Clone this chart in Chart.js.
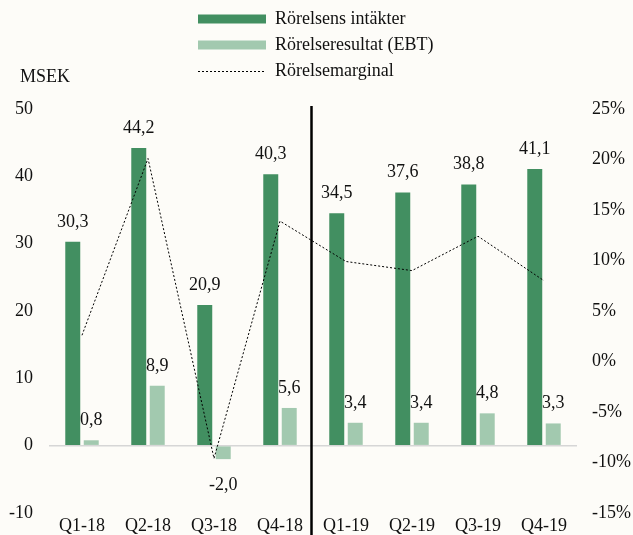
<!DOCTYPE html>
<html>
<head>
<meta charset="utf-8">
<script src="https://cdn.jsdelivr.net/npm/chart.js@4/dist/chart.umd.min.js"></script>
<style>
html,body{margin:0;padding:0;background:#fdfcf8;}
#wrap{position:relative;width:633px;height:535px;}
</style>
</head>
<body>
<div id="wrap"><canvas id="c" width="633" height="535"></canvas></div>
<script>
const categories = ['Q1-18','Q2-18','Q3-18','Q4-18','Q1-19','Q2-19','Q3-19','Q4-19'];
const revenue = [30.3, 44.2, 20.9, 40.3, 34.5, 37.6, 38.8, 41.1];
const ebt = [0.8, 8.9, -2.0, 5.6, 3.4, 3.4, 4.8, 3.3];
const margin = [2.6, 20.1, -9.6, 13.9, 9.9, 9.0, 12.4, 8.0];
const seriesNames = ['Rörelsens intäkter', 'Rörelseresultat (EBT)', 'Rörelsemarginal'];
const unitLabel = 'MSEK';

const DARK = '#428f61';
const LIGHT = '#a2c9af';
const FONT = '"Liberation Serif", "Times New Roman", serif';

const fmt = v => v.toFixed(1).replace('.', ',');

const bgPlugin = {
  id: 'bg',
  beforeDraw(chart) {
    const ctx = chart.ctx;
    ctx.save();
    ctx.fillStyle = '#fdfcf8';
    ctx.fillRect(0, 0, chart.width, chart.height);
    ctx.restore();
  }
};

const labelsPlugin = {
  id: 'barLabels',
  afterDatasetsDraw(chart) {
    const ctx = chart.ctx;
    ctx.save();
    ctx.font = '18px ' + FONT;
    ctx.fillStyle = '#111';
    ctx.textAlign = 'center';
    ctx.textBaseline = 'alphabetic';
    [0, 1].forEach(di => {
      const meta = chart.getDatasetMeta(di);
      const data = chart.data.datasets[di].data;
      meta.data.forEach((el, i) => {
        const v = data[i];
        const y = v >= 0 ? el.y - 15 : el.y + 31;
        ctx.fillText(fmt(v), el.x, y);
      });
    });
    ctx.restore();
  }
};

const extrasPlugin = {
  id: 'extras',
  afterDraw(chart) {
    const ctx = chart.ctx;
    const xs = chart.scales.x;
    ctx.save();
    // separator between years
    const sx = (xs.getPixelForValue(3) + xs.getPixelForValue(4)) / 2 - 1.5;
    ctx.strokeStyle = '#000';
    ctx.lineWidth = 2.5;
    ctx.beginPath();
    ctx.moveTo(sx, 106);
    ctx.lineTo(sx, chart.height);
    ctx.stroke();
    // unit label
    ctx.font = '18px ' + FONT;
    ctx.fillStyle = '#111';
    ctx.textAlign = 'left';
    ctx.textBaseline = 'middle';
    ctx.fillText(unitLabel, 20, 77);
    // legend
    const bx = 198, bw = 68, tx = 275;
    const rows = [19, 45, 71];
    ctx.fillStyle = DARK;
    ctx.fillRect(bx, rows[0] - 4.5, bw, 9);
    ctx.fillStyle = LIGHT;
    ctx.fillRect(bx, rows[1] - 4.5, bw, 9);
    ctx.strokeStyle = '#000';
    ctx.lineWidth = 1;
    ctx.setLineDash([2, 2]);
    ctx.beginPath();
    ctx.moveTo(bx, rows[2] + 0.5);
    ctx.lineTo(bx + bw, rows[2] + 0.5);
    ctx.stroke();
    ctx.setLineDash([]);
    ctx.fillStyle = '#111';
    seriesNames.forEach((n, i) => ctx.fillText(n, tx, rows[i]));
    ctx.restore();
  }
};

new Chart(document.getElementById('c'), {
  data: {
    labels: categories,
    datasets: [
      { type: 'bar', label: seriesNames[0], data: revenue, backgroundColor: DARK, yAxisID: 'y', order: 1,
        categoryPercentage: 0.56, barPercentage: 0.81 },
      { type: 'bar', label: seriesNames[1], data: ebt, backgroundColor: LIGHT, yAxisID: 'y', order: 1,
        categoryPercentage: 0.56, barPercentage: 0.81 },
      { type: 'line', label: seriesNames[2], data: margin, yAxisID: 'y1', order: 0,
        borderColor: '#000', borderWidth: 1, borderDash: [2, 2], pointRadius: 0, tension: 0, fill: false }
    ]
  },
  options: {
    responsive: false,
    animation: false,
    devicePixelRatio: 1,
    layout: { padding: { top: 109, bottom: 0, left: 0, right: 0 } },
    plugins: { legend: { display: false }, tooltip: { enabled: false } },
    scales: {
      x: {
        grid: { display: false, drawTicks: false },
        border: { display: false },
        ticks: { color: '#111', font: { family: FONT, size: 18 }, padding: 2, maxRotation: 0, autoSkip: false },
        afterFit(s) { s.height = 22; s.paddingLeft = 0; s.paddingRight = 0; }
      },
      y: {
        position: 'left',
        min: -10, max: 50,
        ticks: { stepSize: 10, color: '#111', font: { family: FONT, size: 18 }, padding: 16 },
        grid: { drawTicks: false, lineWidth: 1.5, color: ctx => (ctx.tick && ctx.tick.value === 0) ? '#d6d6d6' : 'rgba(0,0,0,0)' },
        border: { display: false },
        afterFit(s) { s.width = 49; s.paddingTop = 0; s.paddingBottom = 0; }
      },
      y1: {
        position: 'right',
        min: -15, max: 25,
        ticks: { stepSize: 5, color: '#111', font: { family: FONT, size: 18 }, padding: 15, callback: v => v + '%' },
        grid: { display: false, drawTicks: false },
        border: { display: false },
        afterFit(s) { s.width = 56; s.paddingTop = 0; s.paddingBottom = 0; }
      }
    }
  },
  plugins: [bgPlugin, labelsPlugin, extrasPlugin]
});
</script>
</body>
</html>
